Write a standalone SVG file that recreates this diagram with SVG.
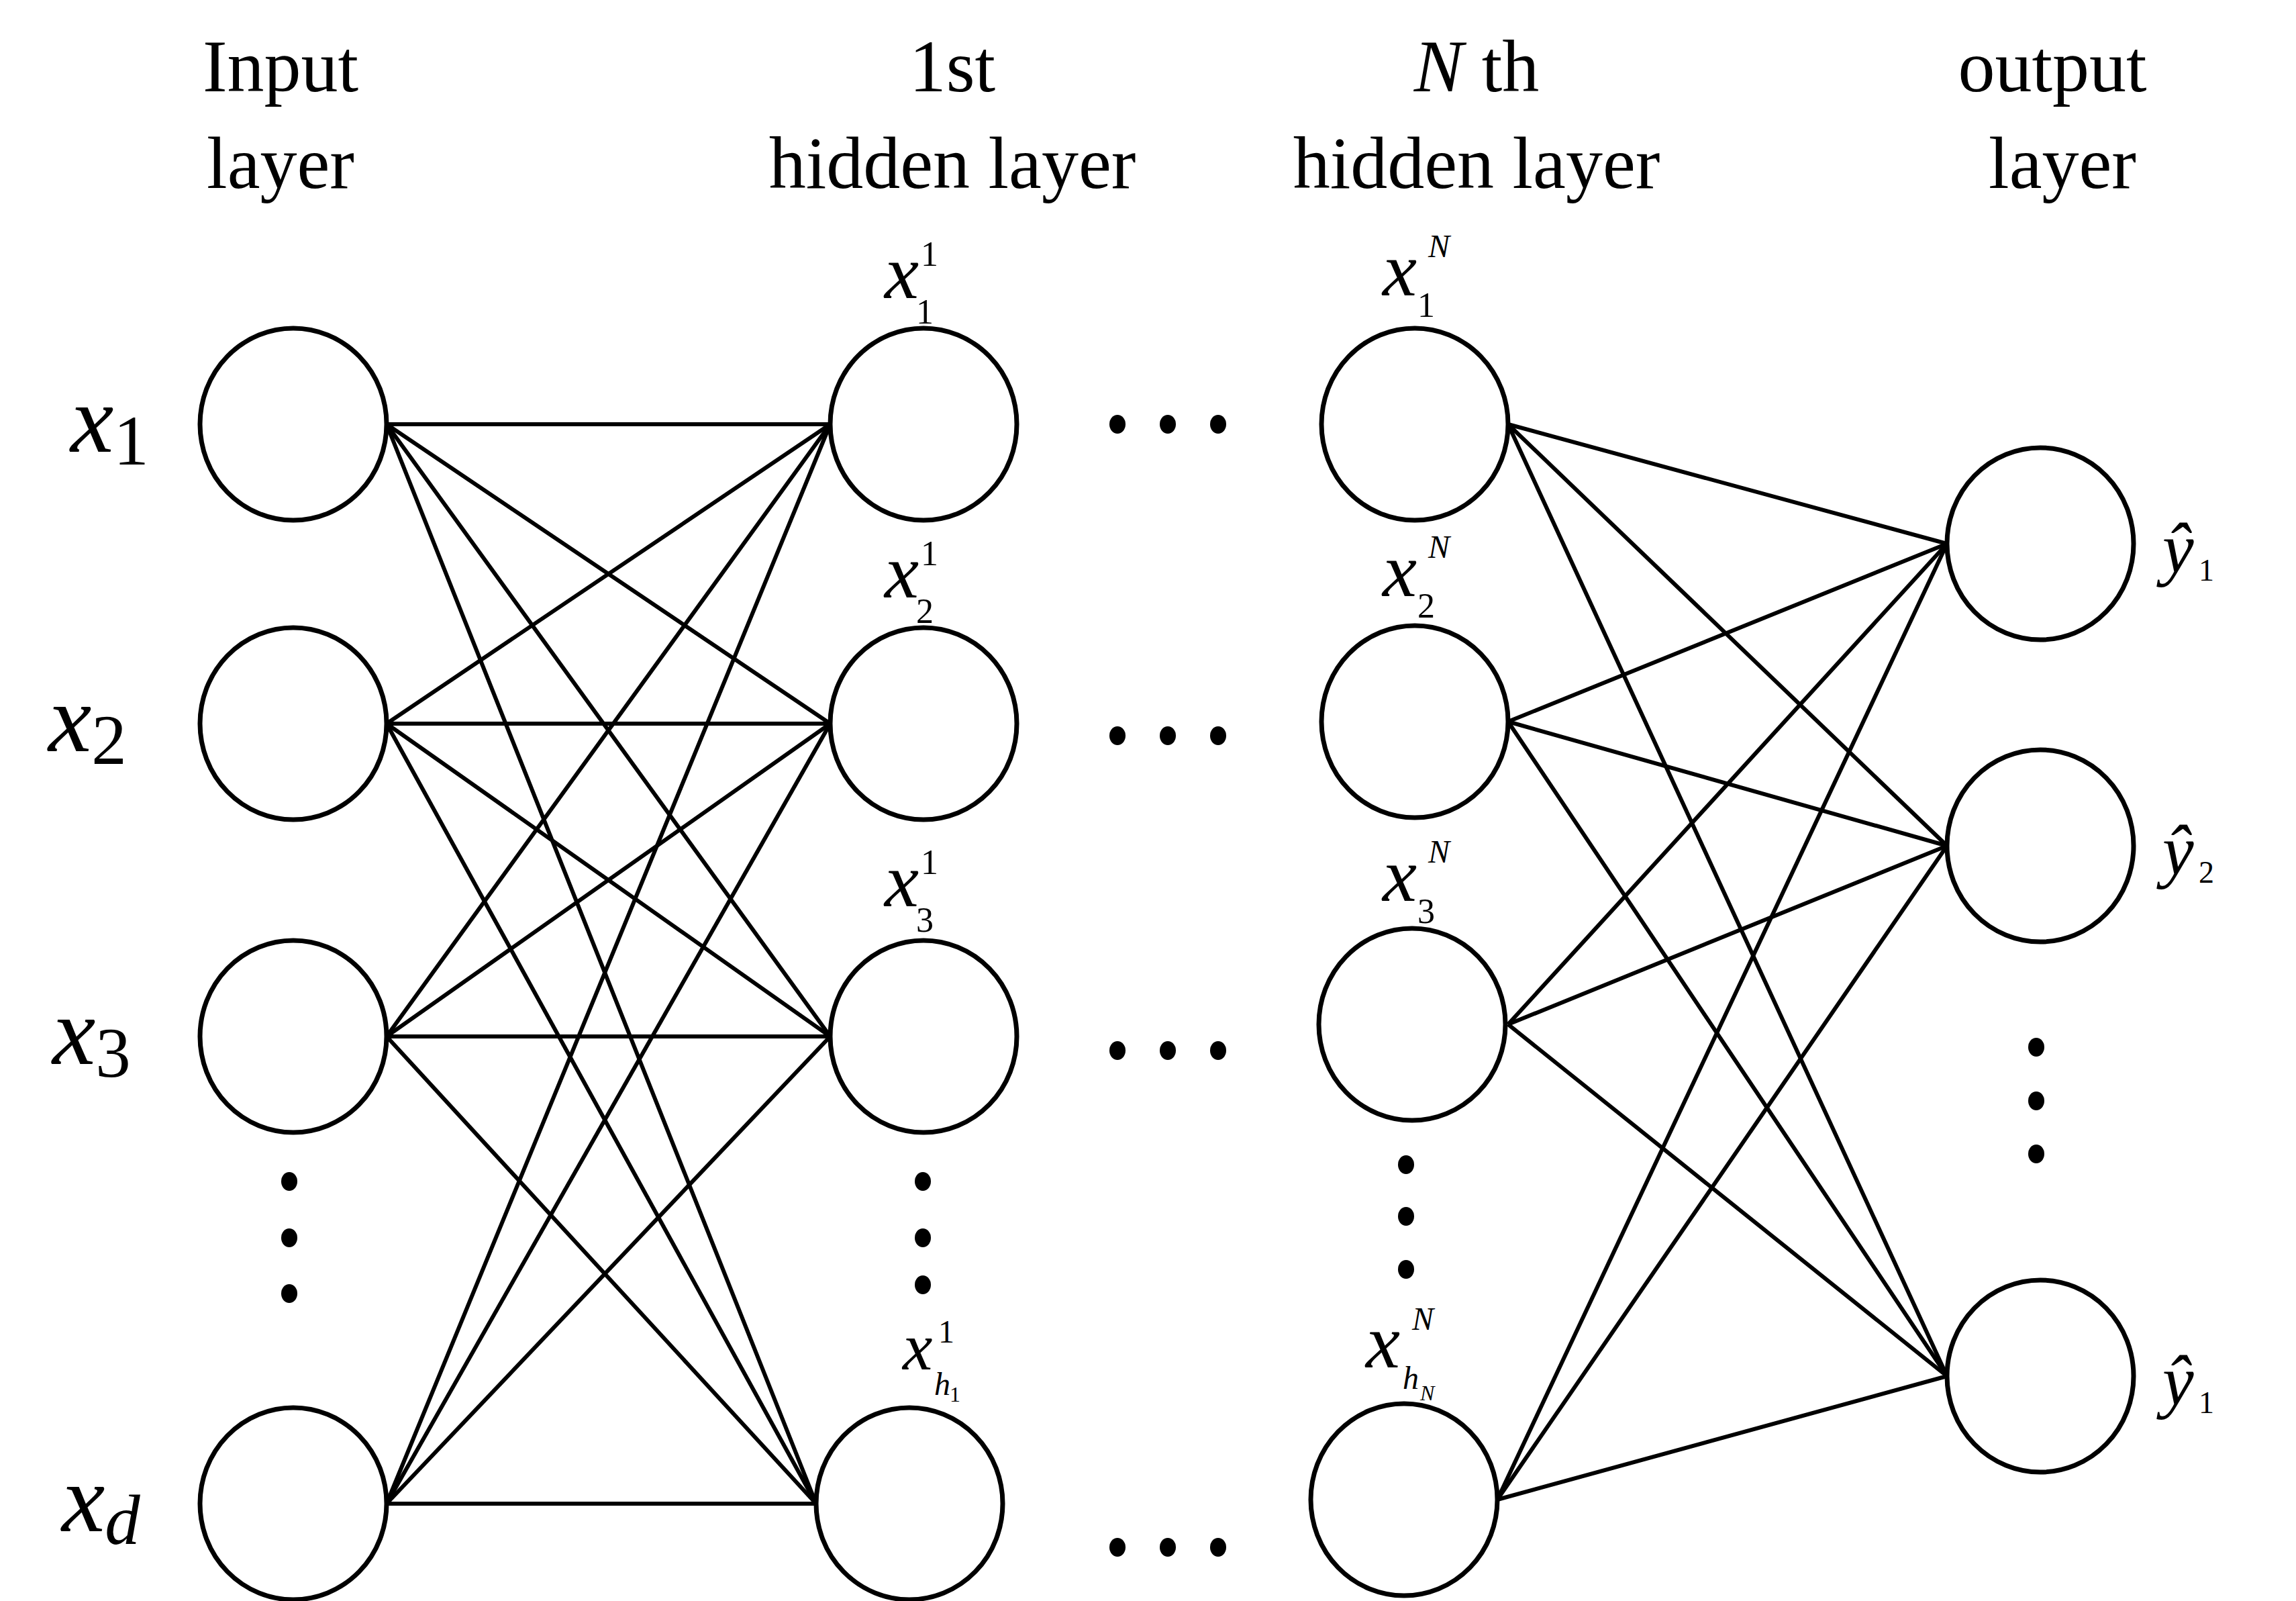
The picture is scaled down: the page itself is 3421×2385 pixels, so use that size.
<svg xmlns="http://www.w3.org/2000/svg" width="3421" height="2385" viewBox="0 0 3421 2385">
<style>
.n{fill:#fff;stroke:#000;stroke-width:7}
.c line{stroke:#000;stroke-width:6}
.t{font-family:"Liberation Serif","Times New Roman",serif;fill:#000}
.h{font-size:110px;text-anchor:middle}
.i{font-style:italic}
.d{fill:#000}
</style>
<rect width="3421" height="2385" fill="#fff"/>
<g id="headings" class="t h">
<text x="418" y="136">Input</text><text x="418" y="280">layer</text>
<text x="1419" y="136">1st</text><text x="1419" y="280">hidden layer</text>
<text x="2200" y="136"><tspan class="i">N</tspan> th</text><text x="2200" y="280">hidden layer</text>
<text x="3058" y="136">output</text><text x="3073" y="280">layer</text>
</g>
<g id="connectors" class="c">
<line x1="576" y1="632" x2="1237" y2="632"/><line x1="576" y1="632" x2="1237" y2="1078"/><line x1="576" y1="632" x2="1237" y2="1544"/><line x1="576" y1="632" x2="1216" y2="2240"/>
<line x1="576" y1="1078" x2="1237" y2="632"/><line x1="576" y1="1078" x2="1237" y2="1078"/><line x1="576" y1="1078" x2="1237" y2="1544"/><line x1="576" y1="1078" x2="1216" y2="2240"/>
<line x1="576" y1="1544" x2="1237" y2="632"/><line x1="576" y1="1544" x2="1237" y2="1078"/><line x1="576" y1="1544" x2="1237" y2="1544"/><line x1="576" y1="1544" x2="1216" y2="2240"/>
<line x1="576" y1="2240" x2="1237" y2="632"/><line x1="576" y1="2240" x2="1237" y2="1078"/><line x1="576" y1="2240" x2="1237" y2="1544"/><line x1="576" y1="2240" x2="1216" y2="2240"/>
<line x1="2247" y1="632" x2="2901" y2="810"/><line x1="2247" y1="632" x2="2901" y2="1260"/><line x1="2247" y1="632" x2="2901" y2="2050"/>
<line x1="2247" y1="1075" x2="2901" y2="810"/><line x1="2247" y1="1075" x2="2901" y2="1260"/><line x1="2247" y1="1075" x2="2901" y2="2050"/>
<line x1="2247" y1="1526" x2="2901" y2="810"/><line x1="2247" y1="1526" x2="2901" y2="1260"/><line x1="2247" y1="1526" x2="2901" y2="2050"/>
<line x1="2231" y1="2234" x2="2901" y2="810"/><line x1="2231" y1="2234" x2="2901" y2="1260"/><line x1="2231" y1="2234" x2="2901" y2="2050"/>
</g>
<g id="in1"><ellipse class="n" cx="437" cy="632" rx="139" ry="143"/><text class="t" x="105" y="673" font-size="145"><tspan class="i">x</tspan><tspan font-size="105" dy="19">1</tspan></text></g>
<g id="in2"><ellipse class="n" cx="437" cy="1078" rx="139" ry="143"/><text class="t" x="72" y="1119" font-size="145"><tspan class="i">x</tspan><tspan font-size="105" dy="19">2</tspan></text></g>
<g id="in3"><ellipse class="n" cx="437" cy="1544" rx="139" ry="143"/><text class="t" x="78" y="1585" font-size="145"><tspan class="i">x</tspan><tspan font-size="105" dy="19">3</tspan></text></g>
<g id="ind"><ellipse class="n" cx="437" cy="2240" rx="139" ry="143"/><text class="t" x="92" y="2281" font-size="145"><tspan class="i">x</tspan><tspan class="i" font-size="105" dy="19">d</tspan></text></g>
<g id="h11"><ellipse class="n" cx="1376" cy="632" rx="139" ry="143"/><text class="t i" x="1318" y="444" font-size="115">x</text><text class="t" x="1372" y="396" font-size="52">1</text><text class="t" x="1365" y="482" font-size="52">1</text></g>
<g id="h12"><ellipse class="n" cx="1376" cy="1078" rx="139" ry="143"/><text class="t i" x="1318" y="890" font-size="115">x</text><text class="t" x="1372" y="842" font-size="52">1</text><text class="t" x="1365" y="928" font-size="52">2</text></g>
<g id="h13"><ellipse class="n" cx="1376" cy="1544" rx="139" ry="143"/><text class="t i" x="1318" y="1350" font-size="115">x</text><text class="t" x="1372" y="1302" font-size="52">1</text><text class="t" x="1365" y="1388" font-size="52">3</text></g>
<g id="h1h"><ellipse class="n" cx="1355" cy="2240" rx="139" ry="143"/><text class="t i" x="1345" y="2040" font-size="100">x</text><text class="t" x="1398" y="2000" font-size="48">1</text><text class="t i" x="1392" y="2078" font-size="48">h</text><text class="t" x="1415" y="2088" font-size="32">1</text></g>
<g id="hN1"><ellipse class="n" cx="2108" cy="632" rx="139" ry="143"/><text class="t i" x="2060" y="440" font-size="115">x</text><text class="t i" x="2128" y="383" font-size="48">N</text><text class="t" x="2112" y="472" font-size="52">1</text></g>
<g id="hN2"><ellipse class="n" cx="2108" cy="1075" rx="139" ry="143"/><text class="t i" x="2060" y="888" font-size="115">x</text><text class="t i" x="2128" y="831" font-size="48">N</text><text class="t" x="2112" y="920" font-size="52">2</text></g>
<g id="hN3"><ellipse class="n" cx="2104" cy="1526" rx="139" ry="143"/><text class="t i" x="2060" y="1342" font-size="115">x</text><text class="t i" x="2128" y="1285" font-size="48">N</text><text class="t" x="2112" y="1375" font-size="52">3</text></g>
<g id="hNh"><ellipse class="n" cx="2092" cy="2234" rx="139" ry="143"/><text class="t i" x="2035" y="2037" font-size="115">x</text><text class="t i" x="2104" y="1981" font-size="48">N</text><text class="t i" x="2090" y="2069" font-size="48">h</text><text class="t i" x="2116" y="2086" font-size="32">N</text></g>
<g id="o1"><ellipse class="n" cx="3040" cy="810" rx="139" ry="143"/><text class="t i" x="3222" y="852" font-size="105">ŷ</text><text class="t" x="3276" y="865" font-size="46">1</text></g>
<g id="o2"><ellipse class="n" cx="3040" cy="1260" rx="139" ry="143"/><text class="t i" x="3222" y="1302" font-size="105">ŷ</text><text class="t" x="3276" y="1315" font-size="46">2</text></g>
<g id="o3"><ellipse class="n" cx="3040" cy="2050" rx="139" ry="143"/><text class="t i" x="3222" y="2092" font-size="105">ŷ</text><text class="t" x="3276" y="2105" font-size="46">1</text></g>
<g id="dots" class="d">
<ellipse cx="1665" cy="632" rx="12" ry="14"/><ellipse cx="1740" cy="632" rx="12" ry="14"/><ellipse cx="1815" cy="632" rx="12" ry="14"/>
<ellipse cx="1665" cy="1096" rx="12" ry="14"/><ellipse cx="1740" cy="1096" rx="12" ry="14"/><ellipse cx="1815" cy="1096" rx="12" ry="14"/>
<ellipse cx="1665" cy="1565" rx="12" ry="14"/><ellipse cx="1740" cy="1565" rx="12" ry="14"/><ellipse cx="1815" cy="1565" rx="12" ry="14"/>
<ellipse cx="1665" cy="2305" rx="12" ry="14"/><ellipse cx="1740" cy="2305" rx="12" ry="14"/><ellipse cx="1815" cy="2305" rx="12" ry="14"/>
<ellipse cx="431" cy="1760" rx="12" ry="14"/><ellipse cx="431" cy="1844" rx="12" ry="14"/><ellipse cx="431" cy="1927" rx="12" ry="14"/>
<ellipse cx="1375" cy="1760" rx="12" ry="14"/><ellipse cx="1375" cy="1844" rx="12" ry="14"/><ellipse cx="1375" cy="1914" rx="12" ry="14"/>
<ellipse cx="2095" cy="1735" rx="12" ry="14"/><ellipse cx="2095" cy="1812" rx="12" ry="14"/><ellipse cx="2095" cy="1891" rx="12" ry="14"/>
<ellipse cx="3034" cy="1560" rx="12" ry="14"/><ellipse cx="3034" cy="1640" rx="12" ry="14"/><ellipse cx="3034" cy="1719" rx="12" ry="14"/>
</g>
</svg>
